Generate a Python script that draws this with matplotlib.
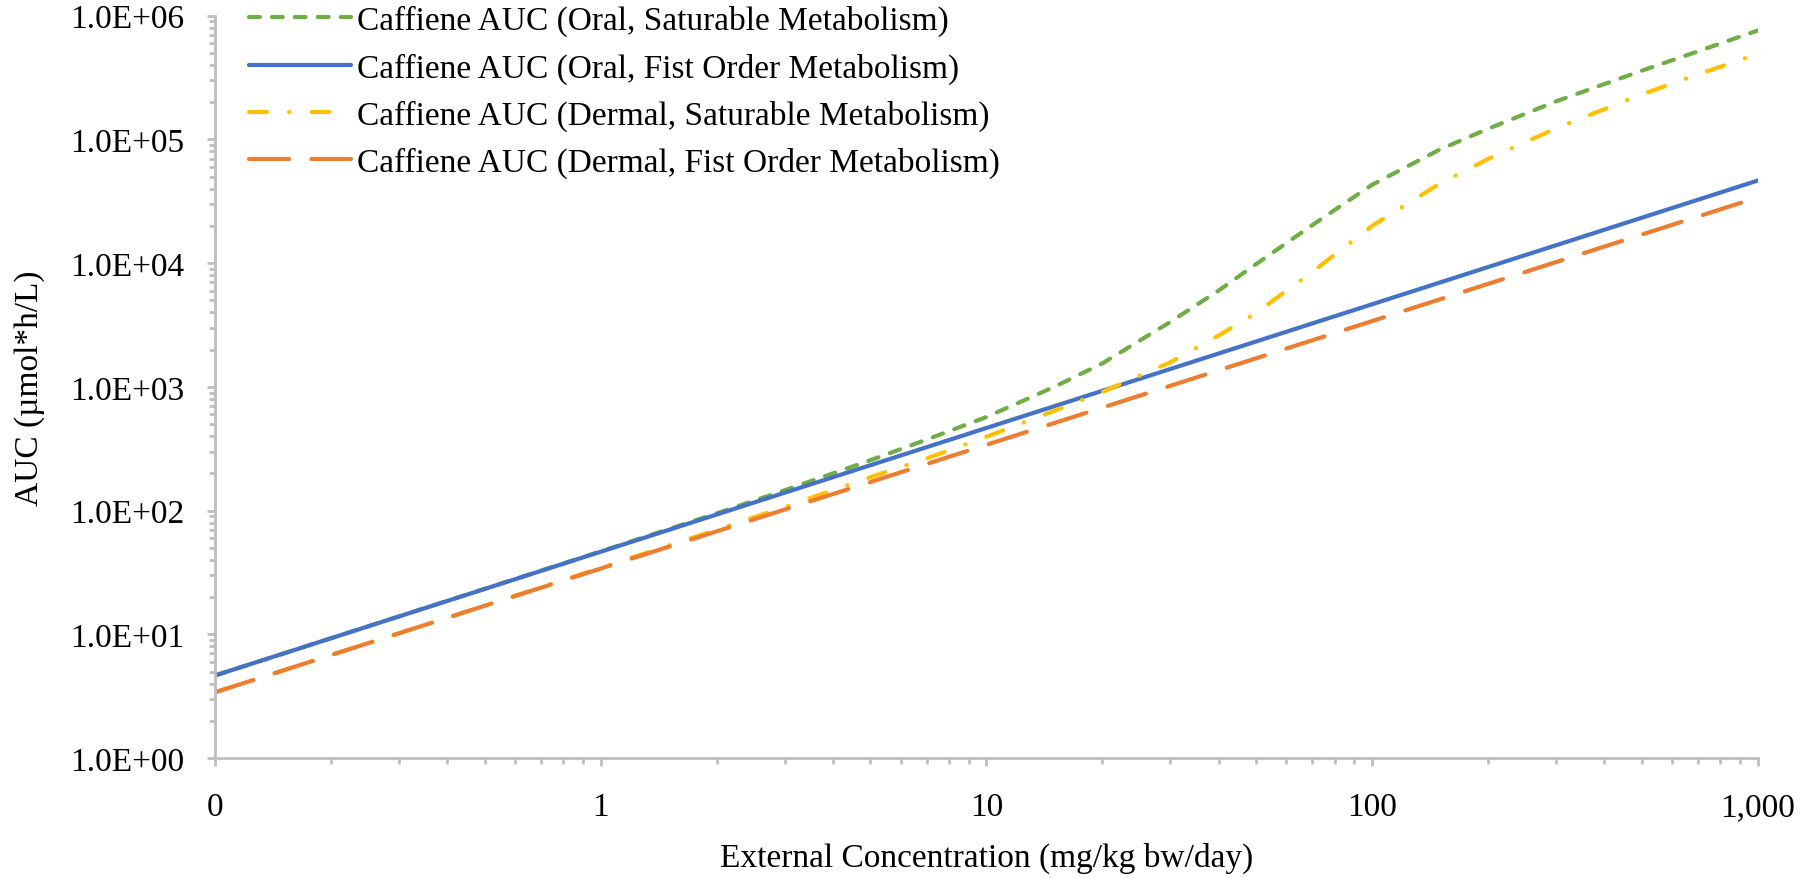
import matplotlib
matplotlib.use("Agg")
import matplotlib.pyplot as plt
from matplotlib.ticker import LogLocator, FixedLocator, FixedFormatter, NullFormatter

# ---- data ----
dose = [0.1, 0.2, 0.5, 1, 2, 3, 5, 7, 10, 15, 20, 30, 40, 50, 70, 100, 150, 200, 300, 500, 700, 1000]
oral_sat = [4.65, 9.3, 23.3, 46.8, 95, 146, 255, 375, 570, 1000, 1550, 3350, 6000, 9800, 20300, 43000,
            83000, 122000, 203000, 359000, 515000, 760000]
oral_fo = [4.65, 9.3, 23.25, 46.5, 93, 139.5, 232.5, 325.5, 465, 697.5, 930, 1395, 1860, 2325, 3255, 4650,
           6975, 9300, 13950, 23250, 32550, 46500]
dermal_sat = [3.4, 6.8, 17, 34.5, 70, 107, 186, 264, 395, 640, 910, 1580, 2600, 3950, 8500, 20000,
              44000, 69500, 123000, 231000, 335000, 491000]
dermal_fo = [3.4, 6.8, 17, 34, 68, 102, 170, 238, 340, 510, 680, 1020, 1360, 1700, 2380, 3400,
             5100, 6800, 10200, 17000, 23800, 34000]

labels = ["Caffiene AUC (Oral, Saturable Metabolism)",
          "Caffiene AUC (Oral, Fist Order Metabolism)",
          "Caffiene AUC (Dermal, Saturable Metabolism)",
          "Caffiene AUC (Dermal, Fist Order Metabolism)"]

x_ticks = [0.1, 1, 10, 100, 1000]
x_ticklabels = ["0", "1", "10", "100", "1,000"]
y_ticks = [1, 10, 100, 1000, 1e4, 1e5, 1e6]
y_ticklabels = ["1.0E+00", "1.0E+01", "1.0E+02", "1.0E+03", "1.0E+04", "1.0E+05", "1.0E+06"]

# ---- styling ----
plt.rcParams['font.family'] = ['Liberation Serif', 'DejaVu Serif']
FS = 24
GRAY = "#BFBFBF"

fig = plt.figure(figsize=(18, 8.79), dpi=100)
ax = fig.add_axes([0.1195, 0.1365, 0.857, 0.8445])

lw = 3.0
l1, = ax.plot(dose, oral_sat, color="#70AD47", lw=lw, dashes=(2.6, 2.9),
              dash_capstyle='round', label=labels[0])
l2, = ax.plot(dose, oral_fo, color="#4472C4", lw=lw, solid_capstyle='round', label=labels[1])
l3, = ax.plot(dose, dermal_sat, color="#FFC000", lw=lw, dashes=(4.3, 5.3, 0.1, 5.3),
              dash_capstyle='round', label=labels[2])
l4, = ax.plot(dose, dermal_fo, color="#ED7D31", lw=lw, dashes=(9.6, 5.4),
              dash_capstyle='round', label=labels[3])

ax.set_xscale('log')
ax.set_yscale('log')
ax.set_xlim(0.1, 1000)
ax.set_ylim(1, 1e6)

ax.xaxis.set_major_locator(FixedLocator(x_ticks))
ax.xaxis.set_major_formatter(FixedFormatter(x_ticklabels))
ax.xaxis.set_minor_locator(LogLocator(base=10, subs=range(2, 10), numticks=20))
ax.xaxis.set_minor_formatter(NullFormatter())
ax.yaxis.set_major_locator(FixedLocator(y_ticks))
ax.yaxis.set_major_formatter(FixedFormatter(y_ticklabels))
ax.yaxis.set_minor_locator(LogLocator(base=10, subs=range(2, 10), numticks=20))
ax.yaxis.set_minor_formatter(NullFormatter())

for s in ['top', 'right']:
    ax.spines[s].set_visible(False)
for s in ['left', 'bottom']:
    ax.spines[s].set_color(GRAY)
    ax.spines[s].set_linewidth(2.0)

ax.tick_params(axis='both', which='major', direction='out', length=6, width=2.0,
               color=GRAY, labelsize=FS, labelcolor='black')
ax.tick_params(axis='both', which='minor', direction='out', length=4, width=2.0, color=GRAY)
ax.tick_params(axis='y', which='major', pad=16)
ax.tick_params(axis='x', which='major', pad=18)

ax.set_xlabel("External Concentration (mg/kg bw/day)", fontsize=FS, labelpad=14)
ax.set_ylabel("AUC (µmol*h/L)", fontsize=FS, labelpad=18)

leg = ax.legend(handles=[l1, l2, l3, l4], loc='upper left',
                bbox_to_anchor=(249 / 1800, 1 - 6 / 879), bbox_transform=fig.transFigure,
                frameon=False, fontsize=FS, handlelength=3.05, handletextpad=0.2,
                labelspacing=0.48, borderpad=0, borderaxespad=0)

fig.savefig("out.png", dpi=100)
